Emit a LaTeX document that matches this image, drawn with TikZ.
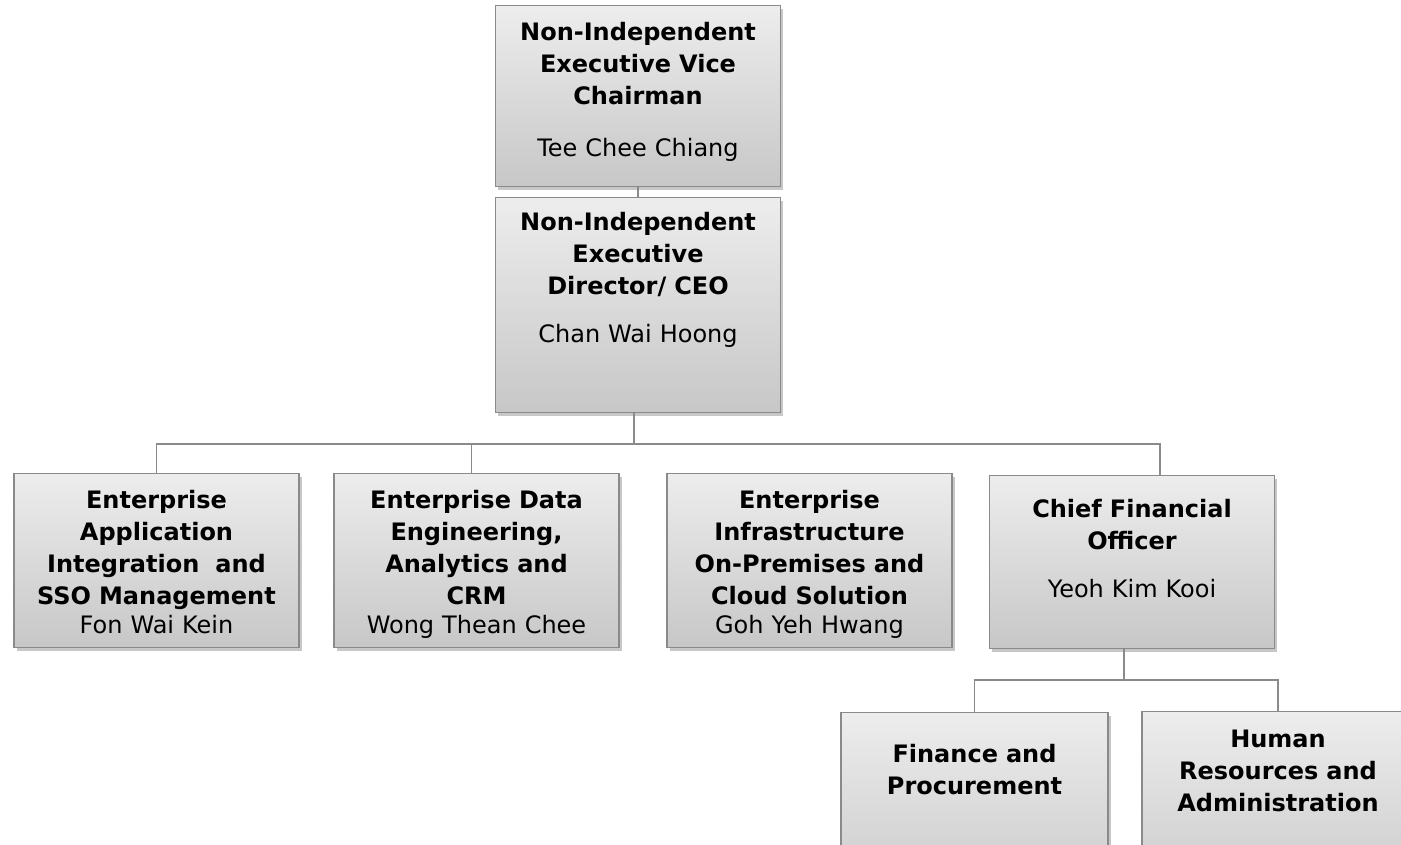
\documentclass[tikz,border=0pt]{standalone}
\usepackage{fontspec}
\setmainfont{DejaVu Sans}
\usepackage{tikz}
\usetikzlibrary{shadows,positioning,calc}
\definecolor{boxtop}{RGB}{237,237,237}
\definecolor{boxbot}{RGB}{199,199,200}
\definecolor{edgegray}{RGB}{138,138,140}
\newcommand{\orgfont}{\fontsize{24}{32}\selectfont}

\begin{document}
\begin{tikzpicture}[x=1pt, y=-1pt,
        block/.style={rectangle, draw=edgegray, line width=1.4pt, top color=boxtop, bottom color=boxbot,
            anchor=north, inner sep=0pt, align=center, font=\orgfont\bfseries,
            drop shadow={shadow xshift=2.5pt, shadow yshift=-3pt, fill=black, opacity=0.22}},
        link/.style={draw=edgegray, line width=1.6pt}
    ]
        \clip (0,0) rectangle (1401,845);

        % top of the chart
        \node[block, text width=285pt, text height=35pt, text depth=146pt] (vchair) at (638,5)
            {Non-Independent\\Executive Vice\\Chairman\\[20pt]\mdseries Tee Chee Chiang};
        \node[block, text width=285pt, text height=33pt, text depth=182pt] (ceo) at (638,197)
            {Non-Independent\\Executive\\Director/ CEO\\[16pt]\mdseries Chan Wai Hoong};

        % second row
        \node[block, text width=285pt, text height=35pt, text depth=139pt] (eai) at (156.5,473)
            {Enterprise\\Application\\Integration~ and\\SSO Management\\[-3pt]\mdseries Fon Wai Kein};
        \node[block, text width=285pt, text height=35pt, text depth=139pt] (data) at (476.5,473)
            {Enterprise Data\\Engineering,\\Analytics and\\CRM\\[-3pt]\mdseries Wong Thean Chee};
        \node[block, text width=285pt, text height=35pt, text depth=139pt] (infra) at (809.5,473)
            {Enterprise\\Infrastructure\\On-Premises and\\Cloud Solution\\[-3pt]\mdseries Goh Yeh Hwang};
        \node[block, text width=285pt, text height=42pt, text depth=131pt] (cfo) at (1132,475)
            {Chief Financial\\Officer\\[16pt]\mdseries Yeoh Kim Kooi};

        % under the CFO
        \node[block, text width=267pt, text height=50pt, text depth=150pt] (fin) at (974.5,712)
            {Finance and\\Procurement};
        \node[block, text width=272pt, text height=36pt, text depth=164pt] (hr) at (1278,711)
            {Human\\Resources and\\Administration};

        \coordinate (bus) at (0,444);
        \coordinate (subbus) at (0,680);

        \draw[link] (vchair.south) -- (ceo.north);
        \draw[link] ([xshift=-4pt]ceo.south) -- ([xshift=-4pt]ceo.south |- bus);
        \draw[link] (eai.north) -- (eai.north |- bus) -- ([xshift=28pt]cfo.north |- bus) -- ([xshift=28pt]cfo.north);
        \draw[link] ([xshift=-5pt]data.north) -- ([xshift=-5pt]data.north |- bus);
        \draw[link] ([xshift=-8pt]cfo.south) -- ([xshift=-8pt]cfo.south |- subbus);
        \draw[link] (fin.north) -- (fin.north |- subbus) -- (hr.north |- subbus) -- (hr.north);
    \end{tikzpicture}
\end{document}
